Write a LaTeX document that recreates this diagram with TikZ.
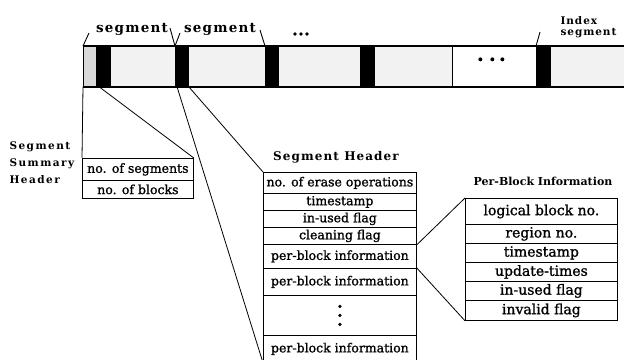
\documentclass[tikz,border=0pt]{standalone}
\usepackage{fontspec}
\setmainfont{DejaVu Serif}
\newfontfamily\boxface{DejaVu Serif}[FakeBold=1.2]
\newfontfamily\wideface{DejaVu Serif}[LetterSpace=9]
\newfontfamily\widerface{DejaVu Serif}[LetterSpace=14]
\usetikzlibrary{calc}

\newcommand{\boxfont}{\boxface\fontsize{12.5}{14}\selectfont}
\newcommand{\pbboxfont}{\boxface\fontsize{14}{15}\selectfont}
\newcommand{\hdrtitlefont}{\wideface\fontsize{12}{13}\selectfont\bfseries}
\newcommand{\pbtitlefont}{\fontsize{11}{13}\selectfont\bfseries}
\newcommand{\segfont}{\wideface\fontsize{13.5}{15}\selectfont\bfseries}
\newcommand{\smallbold}{\widerface\fontsize{10.5}{17}\selectfont\bfseries}
\newcommand{\idxfont}{\wideface\fontsize{10.5}{12}\selectfont\bfseries}

\tikzset{
  cell/.style={draw, line width=0.7pt, inner sep=0pt, minimum height=40pt, anchor=north west},
  blockcell/.style={cell, fill=black},
  datacell/.style={cell, fill=gray!10},
  rowbox/.style={draw, line width=0.8pt, inner sep=0pt, anchor=north west, font=\boxfont},
  hdrrow/.style={rowbox, minimum width=153pt},
  pbrow/.style={rowbox, minimum width=152pt, font=\pbboxfont},
  sumrow/.style={rowbox, minimum width=111pt},
  link/.style={line width=0.8pt},
  tick/.style={line width=0.9pt}
}

\begin{document}
\begin{tikzpicture}[x=1pt, y=-1pt]
\useasboundingbox (0,0) rectangle (624,359);

% ---- the log: segments laid out along the flash ----
\node[cell, fill=gray!30, minimum width=13pt] (s0) at (83,46) {};
\node[blockcell, minimum width=14pt] (b1) at (96,46) {};
\node[datacell, minimum width=65pt] (d1) at (110,46) {};
\node[blockcell, minimum width=13pt] (b2) at (175,46) {};
\node[datacell, minimum width=77pt] (d2) at (188,46) {};
\node[blockcell, minimum width=13pt] (b3) at (265,46) {};
\node[datacell, minimum width=82pt] (d3) at (278,46) {};
\node[blockcell, minimum width=14pt] (b4) at (360,46) {};
\node[datacell, minimum width=78pt] (d4) at (374,46) {};
\node[cell, fill=white, minimum width=84pt] (e1) at (452,46) {};
\node[blockcell, minimum width=14pt] (b5) at (536,46) {};
\node[datacell, minimum width=80pt] (d5) at (550,46) {};
\draw[line width=1.6pt] (s0.north west) -- (d5.north east);
\draw[line width=1.6pt] (s0.south west) -- (d5.south east);

% ellipsis dots: inside the empty cell and after the second label
\foreach \dx in {-14,-2,8} \fill ([shift={(\dx,-7)}]e1.center) circle (2pt);
\coordinate (ell) at (301,34);
\foreach \dx in {-6,0,6} \fill ([xshift=\dx]ell) circle (1.9pt);

% ---- segment labels above the log ----
\node[font=\segfont] (seg1) at (132,29) {segment};
\node[font=\segfont] (seg2) at (220,29) {segment};
\node[font=\idxfont, align=left, anchor=west] (idx) at (557,27) {Index\\[-1pt]segment};
\coordinate (k1) at (89,33);
\coordinate (k2a) at (170,28);
\coordinate (k2b) at (180,33);
\coordinate (k3) at (260,30);
\coordinate (k4) at (540,32);
\draw[tick] (s0.north west) -- (k1);
\draw[tick] (k2a) -- (b2.north west) -- (k2b);
\draw[tick] (k3) -- (b3.north west);
\draw[tick] (b5.north west) -- (k4);

% ---- segment summary header ----
\node[font=\smallbold, align=left, anchor=west] (sumlbl) at (6,163) {Segment\\Summary\\Header};
\node[sumrow, minimum height=22pt] (r1) at (82,158) {no. of segments};
\node[sumrow, minimum height=18pt] (r2) at (82,180) {no. of blocks};

% ---- segment header ----
\node[font=\hdrtitlefont] (hdrlbl) at (336,157) {Segment Header};
\node[hdrrow, minimum height=21pt] (h1) at (263,172) {no. of erase operations};
\node[hdrrow, minimum height=17pt] (h2) at (263,193) {timestamp};
\node[hdrrow, minimum height=17pt] (h3) at (263,210) {in-used flag};
\node[hdrrow, minimum height=17pt] (h4) at (263,227) {cleaning flag};
\node[hdrrow, minimum height=24pt] (h5) at (263,244) {per-block information};
\node[hdrrow, minimum height=27pt] (h6) at (263,268) {per-block information};
\node[hdrrow, minimum height=40pt] (h7) at (263,295) {};
\node[hdrrow, minimum height=27pt] (h8) at (263,335) {per-block information};
\foreach \dy in {-9,0,9} \fill ([yshift=\dy]h7.center) circle (1.8pt);

% ---- per-block information ----
\node[font=\pbtitlefont] (pblbl) at (543,181) {Per-Block Information};
\node[pbrow, minimum height=26pt] (p1) at (465,198) {logical block no.};
\node[pbrow, minimum height=19pt] (p2) at (465,224) {region no.};
\node[pbrow, minimum height=19pt] (p3) at (465,243) {timestamp};
\node[pbrow, minimum height=19pt] (p4) at (465,262) {update-times};
\node[pbrow, minimum height=19pt] (p5) at (465,281) {in-used flag};
\node[pbrow, minimum height=20pt] (p6) at (465,300) {invalid flag};

% ---- zoom-in connectors ----
\draw[link] (s0.south west) -- (r1.north west);
\draw[link] ([xshift=3pt]b1.south west) -- (r1.north east);
\draw[link] ([xshift=2pt]b2.south west) -- (h8.south west);
\draw[link] (b2.south east) -- (h1.north west);
\draw[link] (h4.south east) -- (p1.north west);
\draw[link] (h6.north east) -- (p6.south west);
\end{tikzpicture}
\end{document}
